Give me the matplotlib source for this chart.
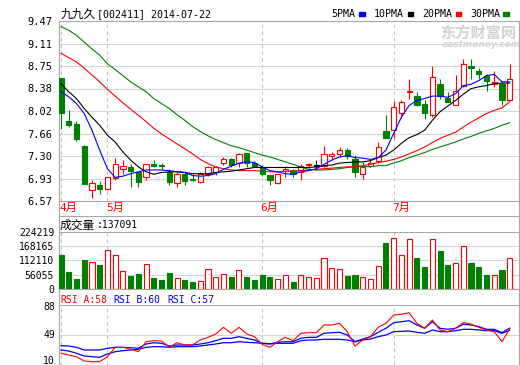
import matplotlib
matplotlib.use("Agg")
import matplotlib.pyplot as plt
import numpy as np
from matplotlib.transforms import blended_transform_factory
from matplotlib.patches import Rectangle

# candle data, 2014-04 .. 2014-07-22
opens = [8.55, 7.86, 7.81, 7.46, 6.75, 6.82, 6.77, 6.94, 7.09, 7.12,
         7.04, 6.95, 7.16, 7.15, 7.03, 6.86, 7.01, 6.93, 6.87, 7.01,
         7.04, 7.19, 7.24, 7.19, 7.34, 7.19, 7.12, 6.99, 6.86, 7.06,
         7.07, 7.03, 7.15, 7.14, 7.14, 7.29, 7.32, 7.39, 7.24, 7.01,
         7.14, 7.21, 7.69, 7.71, 7.99, 8.32, 8.26, 8.14, 7.95, 8.46,
         8.23, 8.12, 8.42, 8.74, 8.67, 8.59, 8.46, 8.46, 8.20]
highs = [8.55, 8.03, 7.86, 7.47, 6.91, 6.89, 6.95, 7.27, 7.23, 7.17,
         7.04, 7.17, 7.23, 7.19, 7.08, 7.04, 7.06, 7.00, 7.04, 7.14,
         7.13, 7.28, 7.26, 7.35, 7.35, 7.22, 7.15, 7.00, 7.01, 7.14,
         7.09, 7.16, 7.19, 7.23, 7.45, 7.36, 7.44, 7.42, 7.31, 7.20,
         7.23, 7.52, 7.96, 8.18, 8.19, 8.54, 8.33, 8.19, 8.74, 8.54,
         8.33, 8.60, 8.85, 8.85, 8.71, 8.62, 8.67, 8.49, 8.77]
lows = [7.73, 7.76, 7.53, 6.85, 6.62, 6.69, 6.75, 6.91, 7.00, 6.80,
        6.80, 6.91, 7.11, 7.09, 6.82, 6.80, 6.82, 6.89, 6.86, 6.98,
        6.99, 7.15, 7.12, 7.12, 7.12, 7.12, 6.98, 6.82, 6.85, 6.96,
        6.96, 6.91, 7.09, 7.07, 7.12, 7.23, 7.28, 7.25, 6.96, 6.93,
        7.12, 7.19, 7.59, 7.58, 7.91, 8.21, 8.10, 7.89, 7.92, 8.22,
        8.16, 8.12, 8.41, 8.54, 8.54, 8.35, 8.41, 8.12, 8.20]
closes = [7.99, 7.79, 7.57, 6.85, 6.86, 6.77, 6.95, 7.16, 7.13, 7.06,
          6.87, 7.16, 7.14, 7.13, 6.88, 7.00, 6.89, 6.91, 7.00, 7.12,
          7.11, 7.24, 7.15, 7.32, 7.19, 7.14, 7.00, 6.91, 7.00, 7.08,
          7.00, 7.14, 7.17, 7.14, 7.32, 7.33, 7.39, 7.29, 7.03, 7.12,
          7.18, 7.44, 7.59, 8.09, 8.16, 8.35, 8.11, 7.99, 8.57, 8.26,
          8.17, 8.34, 8.77, 8.71, 8.62, 8.50, 8.48, 8.20, 8.54]

ma5 = [8.33, 8.25, 8.14, 7.98, 7.71, 7.39, 7.09, 6.95, 6.97, 7.01,
       7.04, 7.07, 7.07, 7.07, 7.06, 7.04, 7.03, 6.98, 6.97, 6.98,
       7.01, 7.08, 7.13, 7.18, 7.20, 7.19, 7.12, 7.06, 7.04, 7.01,
       7.00, 7.04, 7.06, 7.09, 7.16, 7.23, 7.28, 7.30, 7.27, 7.26,
       7.24, 7.27, 7.39, 7.66, 7.92, 8.11, 8.19, 8.22, 8.26, 8.26,
       8.24, 8.30, 8.43, 8.45, 8.51, 8.59, 8.61, 8.49, 8.49]
ma10 = [8.46, 8.33, 8.22, 8.06, 7.92, 7.79, 7.63, 7.52, 7.36, 7.23,
        7.12, 7.04, 7.00, 7.03, 7.04, 7.04, 7.03, 7.01, 7.01, 7.01,
        7.03, 7.04, 7.05, 7.07, 7.09, 7.11, 7.11, 7.11, 7.11, 7.11,
        7.11, 7.11, 7.11, 7.12, 7.14, 7.15, 7.18, 7.19, 7.20, 7.20,
        7.22, 7.27, 7.31, 7.39, 7.50, 7.59, 7.64, 7.71, 7.87, 8.01,
        8.10, 8.19, 8.29, 8.38, 8.41, 8.43, 8.46, 8.47, 8.47]
ma20 = [8.95, 8.88, 8.81, 8.71, 8.60, 8.49, 8.37, 8.26, 8.15, 8.05,
        7.95, 7.85, 7.74, 7.65, 7.57, 7.49, 7.41, 7.33, 7.24, 7.17,
        7.12, 7.09, 7.07, 7.06, 7.06, 7.06, 7.05, 7.04, 7.04, 7.05,
        7.05, 7.06, 7.07, 7.08, 7.09, 7.10, 7.11, 7.12, 7.12, 7.14,
        7.16, 7.19, 7.21, 7.24, 7.28, 7.33, 7.38, 7.44, 7.51, 7.58,
        7.63, 7.68, 7.76, 7.84, 7.91, 7.98, 8.03, 8.07, 8.17]
ma30 = [9.38, 9.32, 9.24, 9.13, 9.02, 8.92, 8.78, 8.69, 8.59, 8.49,
        8.41, 8.33, 8.22, 8.14, 8.06, 7.96, 7.87, 7.77, 7.69, 7.62,
        7.56, 7.51, 7.46, 7.43, 7.39, 7.35, 7.31, 7.28, 7.24, 7.20,
        7.16, 7.12, 7.08, 7.07, 7.07, 7.08, 7.09, 7.11, 7.12, 7.13,
        7.12, 7.14, 7.14, 7.18, 7.22, 7.27, 7.31, 7.35, 7.40, 7.44,
        7.48, 7.52, 7.57, 7.61, 7.66, 7.70, 7.74, 7.79, 7.83]

volume = [133000, 68000, 39000, 114000, 106000, 94000, 152000, 132000, 71000, 51000,
          59000, 97000, 43000, 35000, 63000, 42000, 37000, 27000, 31000, 77000,
          46000, 58000, 48000, 73000, 47000, 35000, 55000, 47000, 38000, 54000,
          27000, 54000, 46000, 42000, 120000, 81000, 77000, 51000, 55000, 46000,
          38000, 89000, 182000, 199000, 132000, 195000, 122000, 86000, 195000, 149000,
          94000, 101000, 171000, 102000, 86000, 55000, 54000, 74000, 122000]

rsi_a = [25.2, 23.0, 20.8, 15.2, 14.3, 14.3, 20.8, 33.0, 33.0, 30.4,
         27.3, 40.3, 41.6, 41.2, 33.0, 39.0, 36.0, 36.0, 42.5, 46.0,
         50.3, 59.0, 51.2, 59.0, 50.3, 46.8, 36.9, 33.0, 40.3, 46.0,
         41.6, 51.2, 52.0, 52.0, 62.0, 62.0, 64.2, 53.3, 34.7, 42.5,
         46.8, 59.0, 64.2, 75.0, 75.9, 78.0, 64.2, 57.7, 68.5, 55.5,
         53.3, 57.7, 65.0, 63.3, 59.0, 55.5, 53.3, 40.3, 57.0]
rsi_b = [35.1, 34.7, 33.0, 29.5, 29.5, 29.5, 31.7, 33.0, 33.0, 32.5,
         31.7, 37.3, 39.0, 38.2, 34.7, 36.0, 36.0, 36.0, 37.3, 39.0,
         41.6, 44.7, 44.7, 46.8, 44.7, 42.5, 38.2, 37.3, 39.5, 40.3,
         40.3, 44.7, 46.0, 46.0, 51.2, 52.0, 52.5, 49.0, 40.3, 43.8,
         46.8, 52.5, 57.7, 65.0, 66.3, 67.6, 62.0, 57.7, 66.3, 57.7,
         56.4, 57.7, 62.9, 62.0, 59.8, 56.4, 56.4, 52.0, 58.0]
rsi_c = [29.5, 28.2, 25.2, 21.7, 20.8, 20.0, 24.3, 27.3, 28.6, 29.5,
         30.4, 33.0, 33.8, 33.8, 33.0, 33.8, 33.8, 33.8, 34.7, 36.0,
         37.3, 39.0, 39.0, 40.3, 39.5, 39.0, 38.2, 37.7, 38.2, 38.2,
         38.2, 41.6, 42.5, 42.5, 43.4, 43.4, 43.4, 42.5, 40.3, 42.5,
         43.8, 46.8, 49.0, 53.3, 53.8, 54.2, 52.5, 51.2, 55.5, 53.3,
         53.3, 54.6, 56.4, 56.4, 55.5, 54.6, 54.6, 51.2, 55.0]

month_idx = [0, 6, 26, 43]
month_labels = ["4月", "5月", "6月", "7月"]
price_ticks = [6.57, 6.9325, 7.295, 7.6575, 8.02, 8.3825, 8.745, 9.1075, 9.47]
price_labels = ["6.57", "6.93", "7.30", "7.66", "8.02", "8.38", "8.75", "9.11", "9.47"]
vol_ticks = [0, 56055, 112110, 168165, 224219]

RED, GREEN, BLUE = "#ff0000", "#008000", "#0000ff"
FRAME, GRID, DASH = "#a8a8a8", "#d6d6d6", "#c4c4c4"
MONO = ["DejaVu Sans Mono", "Noto Sans CJK SC"]
CJK = ["Noto Sans CJK SC", "DejaVu Sans"]

W, H = 520, 365
fig = plt.figure(figsize=(W / 100, H / 100), dpi=100)

def box(l, t, r, b):
    return [l / W, 1 - b / H, (r - l) / W, (b - t) / H]

# background axes in pixel units for frame lines and labels
bg = fig.add_axes([0, 0, 1, 1])
bg.set_xlim(0, W)
bg.set_ylim(H, 0)
bg.axis("off")

ax_p = fig.add_axes(box(59, 21, 519, 201))
ax_v = fig.add_axes(box(59, 232, 519, 289))
ax_r = fig.add_axes(box(59, 305, 519, 365))

n = len(closes)
x = np.arange(n)
o = np.array(opens); c = np.array(closes)
cols = [RED if cc > oo else (GREEN if cc < oo else "black") for oo, cc in zip(opens, closes)]
faces = ["white" if cc > oo else col for oo, cc, col in zip(opens, closes, cols)]

for ax in (ax_p, ax_v, ax_r):
    ax.set_facecolor("none")
    ax.set_xlim(-0.26, 59.2)
    ax.set_xticks([])
    for s in ax.spines.values():
        s.set_color(FRAME)
        s.set_linewidth(0.8)
    ax.tick_params(axis="y", length=0, pad=3.5, labelsize=7)
    for m in month_idx:
        ax.axvline(m, color=DASH, lw=0.8, ls=(0, (3, 3)), zorder=0)

# price panel
ax_p.set_ylim(6.57, 9.47)
ax_p.set_yticks(price_ticks)
ax_p.set_yticklabels(price_labels, family=MONO, fontsize=7.5)
ax_p.tick_params(axis="y", pad=4.5)
ax_p.grid(axis="y", color=GRID, lw=0.8, zorder=0)
ax_p.vlines(x, lows, highs, colors=cols, lw=0.8, zorder=2)
ax_p.bar(x, np.maximum(np.abs(c - o), 0.006), bottom=np.minimum(o, c), width=0.68,
         facecolor=faces, edgecolor=cols, linewidth=0.8, zorder=3)
ax_p.plot(x, ma30, color=GREEN, lw=0.8, zorder=4)
ax_p.plot(x, ma20, color=RED, lw=0.8, zorder=4)
ax_p.plot(x, ma10, color="black", lw=0.8, zorder=4)
ax_p.plot(x, ma5, color=BLUE, lw=0.8, zorder=4)

# volume panel
vcols = [RED if cc >= oo else GREEN for oo, cc in zip(opens, closes)]
vfaces = ["white" if cc >= oo else GREEN for oo, cc in zip(opens, closes)]
ax_v.set_ylim(0, 224219)
ax_v.set_yticks(vol_ticks)
ax_v.set_yticklabels([str(v) for v in vol_ticks], family=MONO)
ax_v.grid(axis="y", color=GRID, lw=0.8, zorder=0)
ax_v.bar(x, volume, width=0.66, facecolor=vfaces, edgecolor=vcols, linewidth=0.8, zorder=3)

# rsi panel
ax_r.set_ylim(10, 88)
ax_r.set_yticks([49])
ax_r.set_yticklabels([])
ax_r.grid(axis="y", color=GRID, lw=0.8, zorder=0)
ax_r.spines["bottom"].set_visible(False)
ax_r.plot(x, rsi_c, color=BLUE, lw=0.9)
ax_r.plot(x, rsi_b, color=BLUE, lw=0.9)
ax_r.plot(x, rsi_a, color=RED, lw=0.8)
for val, yy in [("88", 306.5), ("49", 335), ("10", 361)]:
    bg.text(55, yy, val, family=MONO, fontsize=7, ha="right", va="center")

# frame lines between panels
bg.plot([59, 59], [21, 365], color=FRAME, lw=0.8)
bg.plot([59, 519], [216, 216], color=FRAME, lw=0.8)
bg.plot([519, 519], [201, 232], color=FRAME, lw=0.8)
bg.plot([519, 519], [289, 305], color=FRAME, lw=0.8)

# watermark
bg.text(440, 33, "东方财富网", family=CJK, fontsize=11, fontweight="bold",
        color="#d2d2d2", va="center", ha="left")
bg.text(442, 44.5, "eastmoney.com", family="DejaVu Sans", fontsize=6.5,
        fontweight="bold", color="#d2d2d2", va="center", ha="left", style="italic")

# month labels
tr = blended_transform_factory(ax_p.transData, bg.transData)
for m, lab in zip(month_idx, month_labels):
    ax_p.text(m - 0.2, 208, lab, transform=tr, family=MONO, fontsize=8, color=RED,
              ha="left", va="center", clip_on=False)

# titles
bg.text(61, 14, "九九久", family=CJK, fontsize=8.5, va="center", ha="left")
bg.text(97, 14, "[002411] 2014-07-22", family=MONO, fontsize=7.2, va="center", ha="left")
for lab, tx, rx, col in [("5PMA", 331.7, 359, BLUE), ("10PMA", 374, 407.5, "black"),
                         ("20PMA", 422, 455.5, RED), ("30PMA", 470.7, 503, GREEN)]:
    bg.text(tx, 14, lab, family=MONO, fontsize=7.2, va="center", ha="left")
    bg.add_patch(Rectangle((rx, 12.3), 5.5, 3.5, color=col))

bg.text(60, 225, "成交量", family=CJK, fontsize=8.5, va="center", ha="left")
bg.text(96.5, 225, ":137091", family=MONO, fontsize=7, va="center", ha="left")
bg.text(60, 300, "RSI_A:58", family=MONO, fontsize=7, color=RED, va="center", ha="left")
bg.text(113, 300, "RSI_B:60", family=MONO, fontsize=7, color=BLUE, va="center", ha="left")
bg.text(167, 300, "RSI_C:57", family=MONO, fontsize=7, color=BLUE, va="center", ha="left")

fig.savefig("out.png", dpi=100)
